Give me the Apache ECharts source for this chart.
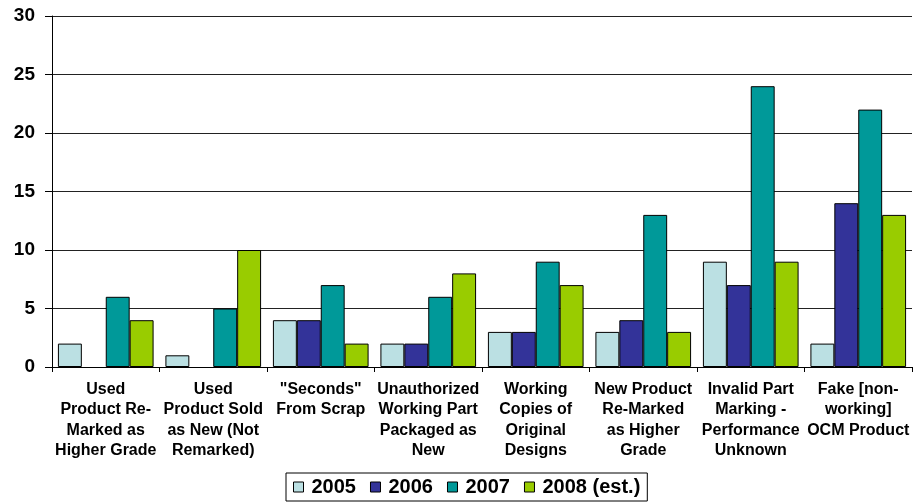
<!DOCTYPE html>
<html>
<head>
<meta charset="utf-8">
<script src="https://cdn.jsdelivr.net/npm/echarts@6/dist/echarts.min.js"></script>
<style>html,body{margin:0;padding:0;background:#fff}#c{width:914px;height:504px}</style>
</head>
<body>
<div id="c"></div>
<script>
const categories = [
  "Used\nProduct Re-\nMarked as\nHigher Grade",
  "Used\nProduct Sold\nas New (Not\nRemarked)",
  "\"Seconds\"\nFrom Scrap",
  "Unauthorized\nWorking Part\nPackaged as\nNew",
  "Working\nCopies of\nOriginal\nDesigns",
  "New Product\nRe-Marked\nas Higher\nGrade",
  "Invalid Part\nMarking -\nPerformance\nUnknown",
  "Fake [non-\nworking]\nOCM Product"
];
const seriesNames = ["2005", "2006", "2007", "2008 (est.)"];
const v2005 = [2, 1, 4, 2, 3, 3, 9, 2];
const v2006 = [0, 0, 4, 2, 3, 4, 7, 14];
const v2007 = [6, 5, 7, 6, 9, 13, 24, 22];
const v2008 = [4, 10, 2, 8, 7, 3, 9, 13];
const colors = ["#BBE0E3", "#333399", "#009999", "#99CC00"];
const values = [v2005, v2006, v2007, v2008];

const chart = echarts.init(document.getElementById('c'));
const font = "'Liberation Sans', Arial, sans-serif";
chart.setOption({
  animation: false,
  textStyle: { fontFamily: font },
  grid: { left: 52, right: 2, top: 16, bottom: 137, containLabel: false },
  legend: {
    left: 286, top: 473,
    itemWidth: 10, itemHeight: 10, itemGap: 14,
    icon: 'rect',
    borderColor: '#000', borderWidth: 1,
    padding: [4, 7, 4, 7],
    textStyle: { fontSize: 20, fontWeight: 'bold', color: '#000', fontFamily: font, padding: [0, 0, 0, 3] },
    itemStyle: { borderColor: '#000', borderWidth: 1 },
    data: seriesNames
  },
  xAxis: {
    type: 'category',
    data: categories,
    axisLine: { lineStyle: { color: '#000', width: 1 } },
    axisTick: { show: true, length: 5, lineStyle: { color: '#000' } },
    axisLabel: { interval: 0, fontSize: 16, fontWeight: 'bold', color: '#000', lineHeight: 20.5, margin: 12, fontFamily: font }
  },
  yAxis: {
    type: 'value',
    min: 0, max: 30, interval: 5,
    axisLine: { show: true, lineStyle: { color: '#000', width: 1 } },
    axisTick: { show: true, length: 7, lineStyle: { color: '#000' } },
    axisLabel: { fontSize: 19, fontWeight: 'bold', color: '#000', margin: 17, fontFamily: font },
    splitLine: { show: true, lineStyle: { color: '#222', width: 1 } }
  },
  series: seriesNames.map((n, i) => ({
    name: n,
    type: 'bar',
    data: values[i].map(v => (v === 0 ? null : v)),
    barGap: '0%',
    barCategoryGap: '11%',
    itemStyle: { color: colors[i], borderColor: '#000', borderWidth: 1 }
  }))
});
</script>
</body>
</html>
